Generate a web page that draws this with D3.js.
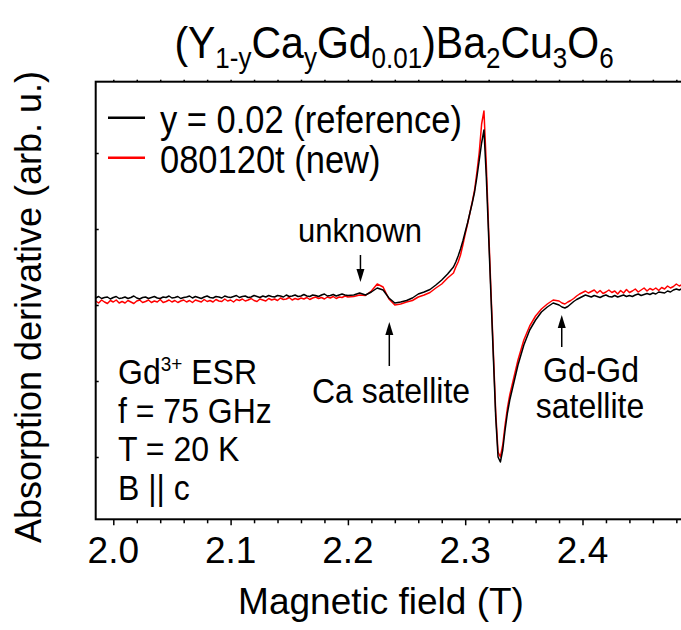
<!DOCTYPE html>
<html>
<head>
<meta charset="utf-8">
<script src="https://cdn.jsdelivr.net/npm/d3@7/dist/d3.min.js"></script>
<style>
  body { margin: 0; background: #fff; }
  svg { display: block; }
  text { font-family: "Liberation Sans", Arial, Helvetica, sans-serif; fill: #000; }
</style>
</head>
<body>
<svg id="chart" width="681" height="630"></svg>
<script>
// Magnetic field (T) at which both spectra are sampled
const field = [
  1.9850, 1.9875, 1.9900, 1.9925, 1.9950, 1.9975, 2.0000, 2.0025, 2.0050, 2.0075,
  2.0100, 2.0125, 2.0150, 2.0175, 2.0200, 2.0225, 2.0250, 2.0275, 2.0300, 2.0325,
  2.0350, 2.0375, 2.0400, 2.0425, 2.0450, 2.0475, 2.0500, 2.0525, 2.0550, 2.0575,
  2.0600, 2.0625, 2.0650, 2.0675, 2.0700, 2.0725, 2.0750, 2.0775, 2.0800, 2.0825,
  2.0850, 2.0875, 2.0900, 2.0925, 2.0950, 2.0975, 2.1000, 2.1025, 2.1050, 2.1075,
  2.1100, 2.1125, 2.1150, 2.1175, 2.1200, 2.1225, 2.1250, 2.1275, 2.1300, 2.1325,
  2.1350, 2.1375, 2.1400, 2.1425, 2.1450, 2.1475, 2.1500, 2.1525, 2.1550, 2.1575,
  2.1600, 2.1625, 2.1650, 2.1675, 2.1700, 2.1725, 2.1750, 2.1775, 2.1800, 2.1825,
  2.1850, 2.1875, 2.1900, 2.1925, 2.1950, 2.1975,
  2.200, 2.205, 2.210, 2.215, 2.220, 2.225, 2.230, 2.235, 2.240, 2.245,
  2.250, 2.255, 2.260, 2.265, 2.270, 2.275, 2.280, 2.285, 2.290,
  2.292, 2.294, 2.296, 2.298, 2.300, 2.302, 2.304, 2.306, 2.308, 2.310,
  2.312, 2.314, 2.316, 2.318, 2.320, 2.322, 2.324, 2.326, 2.328, 2.330,
  2.332, 2.334, 2.336, 2.338, 2.340,
  2.345, 2.350, 2.355, 2.360, 2.365, 2.370, 2.375, 2.380,
  2.3825, 2.3850, 2.3875, 2.3900, 2.3925, 2.3950, 2.3975, 2.4000, 2.4025, 2.4050,
  2.4075, 2.4100, 2.4125, 2.4150, 2.4175, 2.4200, 2.4225, 2.4250, 2.4275, 2.4300,
  2.4325, 2.4350, 2.4375, 2.4400, 2.4425, 2.4450, 2.4475, 2.4500, 2.4525, 2.4550,
  2.4575, 2.4600, 2.4625, 2.4650, 2.4675, 2.4700, 2.4725, 2.4750, 2.4775, 2.4800,
  2.4825, 2.4850, 2.4875, 2.4900, 2.4925, 2.4950, 2.4975, 2.5000
];

// Absorption derivative, arb. u. — reference sample y = 0.02
const refSignal = [
  7, 8.5, 6.5, 7.5, 8, 6, 7.5, 8.5, 6.5, 7,
  8, 6.5, 7.5, 9, 7, 6, 7.5, 8, 6.5, 7.5,
  8.5, 7, 6.5, 8, 7.5, 9, 7, 7.5, 8.5, 6.5,
  7.5, 8, 9, 7, 8.5, 7.5, 6.5, 8, 9, 7.5,
  7, 8.5, 8, 7, 9, 8, 7.5, 8.5, 9.5, 7.5,
  8.5, 9, 7.5, 8, 9.5, 8.5, 7.5, 9, 8, 9.5,
  8.5, 8, 9.5, 9, 8, 10, 8.5, 9, 10, 8.5,
  9, 10.5, 9, 8.5, 10, 9.5, 8.5, 10, 11, 9,
  9.5, 10.5, 9, 10, 11, 10,
  9.5, 10, 12, 10, 13, 17, 15, 7, 2, 3,
  4.5, 7, 11, 13, 15.5, 20, 25, 31, 38,
  43, 49, 56, 64, 73, 82, 92, 102, 113, 128,
  145, 162, 175, 128, 68, 8, -52, -112, -152, -157,
  -145, -125, -108, -95, -85,
  -60, -40, -25, -15, -7, -2, 2, 0,
  -2, -3, -1.5, 1, 3.5, 5.5, 7, 8.5, 10, 9,
  8, 9.5, 8.5, 7.5, 9, 10, 8.5, 8, 9.5, 8,
  9, 10, 8.5, 9.5, 8.5, 10, 11, 9.5, 10.5, 11.5,
  10.5, 12, 11, 13, 12.5, 12, 14, 13, 15, 16,
  15, 16.5, 15.5, 16.5, 17, 16, 17.5, 17
];

// Absorption derivative, arb. u. — new sample 080120t
const newSignal = [
  4, 2, 5, 3, 1.5, 4.5, 3, 5, 2, 3.5,
  2, 4.5, 3, 1.5, 4, 5, 2.5, 3.5, 5, 2.5,
  4, 3, 5.5, 2.5, 3.5, 5, 3, 4.5, 2.5, 4,
  5, 3, 4.5, 2.5, 5, 4, 3, 5.5, 3.5, 4.5,
  3, 5.5, 4, 3.5, 6, 4, 5, 3, 5.5, 4.5,
  6, 4, 5, 6.5, 4.5, 3.5, 6, 5, 4, 6.5,
  5, 6, 4.5, 7, 5.5, 6, 7.5, 5, 6.5, 5.5,
  7, 6, 7.5, 5.5, 7, 8, 6.5, 7.5, 6, 8,
  7, 8.5, 6.5, 8, 7.5, 9,
  8, 8.5, 10, 9.5, 14, 21, 18, 6, 0, 1,
  3, 4.5, 8, 10, 12.5, 17, 21, 27, 32,
  38, 43, 50, 60, 71, 81, 92, 103, 115, 133,
  153, 181, 194, 140, 75, 13, -47, -107, -147, -152,
  -140, -120, -103, -90, -80,
  -55, -35, -21, -11, -4, 1, 5, 4,
  2, 1, 3, 4.5, 6.5, 9, 11, 12.5, 14, 12,
  13.5, 15, 12, 14.5, 11.5, 13, 15, 12.5, 14, 11,
  14.5, 12, 15.5, 12.5, 14, 16, 13, 15, 17, 14,
  16.5, 15, 17, 14.5, 17.5, 16, 19, 17, 18.5, 21,
  19, 20.5, 19, 21, 19.5, 20, 18.5, 20
];

const seriesNames = ["y = 0.02 (reference)", "080120t (new)"];
const seriesColors = ["#000000", "#ff0000"];

const xTicks = [2.0, 2.1, 2.2, 2.3, 2.4];
const xTickLabels = ["2.0", "2.1", "2.2", "2.3", "2.4"];
const yTicks = [-152, -76, 0, 76, 152];

const infoLines = ["f = 75 GHz", "T = 20 K", "B || c"];

// annotation arrows: field position, tip and tail values
const arrows = [
  { name: "unknown",         x: 2.2107, tip: 23,  tail: 50 },
  { name: "Ca satellite",    x: 2.2353, tip: -17, tail: -61 },
  { name: "Gd-Gd satellite", x: 2.3823, tip: -10, tail: -42 }
];

// ---------------------------------------------------------------
const svg = d3.select("#chart");
const plot = { left: 95.7, top: 81.7, bottom: 519.3, right: 699.8 };

const x = d3.scaleLinear().domain([1.985, 2.5]).range([plot.left, plot.right]);
const y = d3.scaleLinear().domain([-214.3, 223.3]).range([plot.bottom, plot.top]);

function txt(parent, px, py, size, anchor, sy) {
  return parent.append("text")
    .attr("transform", `translate(${px},${py}) scale(1,${sy || 1})`)
    .attr("font-size", size)
    .attr("text-anchor", anchor || "start");
}

svg.append("defs").append("clipPath").attr("id", "plotClip")
  .append("rect")
  .attr("x", plot.left).attr("y", plot.top)
  .attr("width", plot.right - plot.left).attr("height", plot.bottom - plot.top);

// spectra: new sample underneath, reference on top
const line = d3.line().x((d, i) => x(field[i])).y(d => y(d));
const curves = svg.append("g").attr("clip-path", "url(#plotClip)");
[[newSignal, seriesColors[1]], [refSignal, seriesColors[0]]].forEach(([series, color]) => {
  curves.append("path")
    .datum(series)
    .attr("d", line)
    .attr("fill", "none")
    .attr("stroke", color)
    .attr("stroke-width", 1.5)
    .attr("stroke-linejoin", "round");
});

// axes
const xMinor = d3.range(2.02, 2.5, 0.02).filter(v => Math.abs(v * 10 - Math.round(v * 10)) > 1e-6);

const axisBottomG = svg.append("g").attr("transform", `translate(0,${plot.bottom})`);
axisBottomG.call(d3.axisBottom(x).tickValues(xTicks).tickSize(6).tickFormat(""));
axisBottomG.append("g").call(d3.axisBottom(x).tickValues(xMinor).tickSize(4).tickFormat(""));
axisBottomG.selectAll(".domain").remove();

const axisTopG = svg.append("g").attr("transform", `translate(0,${plot.top})`);
axisTopG.call(d3.axisTop(x).tickValues(xTicks.concat(xMinor)).tickSize(2).tickFormat(""));
axisTopG.selectAll(".domain").remove();

const axisLeftG = svg.append("g").attr("transform", `translate(${plot.left},0)`);
axisLeftG.call(d3.axisRight(y).tickValues(yTicks).tickSize(3).tickFormat(""));
axisLeftG.selectAll(".domain").remove();

svg.selectAll(".tick line").attr("stroke", "#000").attr("stroke-width", 1.5);

// frame
svg.append("rect")
  .attr("x", plot.left).attr("y", plot.top)
  .attr("width", plot.right - plot.left).attr("height", plot.bottom - plot.top)
  .attr("fill", "none").attr("stroke", "#000").attr("stroke-width", 2);

// tick labels
xTicks.forEach((v, i) => {
  txt(svg, x(v), 563, 37, "middle").text(xTickLabels[i]);
});

// axis titles
txt(svg, 381, 614, 37, "middle").text("Magnetic field (T)");
svg.append("text")
  .attr("transform", "translate(41,307) rotate(-90)")
  .attr("font-size", 36).attr("text-anchor", "middle")
  .text("Absorption derivative (arb. u.)");

// title with subscripts
const titleParts = [["(Y", 0], ["1-y", 1], ["Ca", 0], ["y", 1], ["Gd", 0], ["0.01", 1],
                    [")Ba", 0], ["2", 1], ["Cu", 0], ["3", 1], ["O", 0], ["6", 1]];
const title = txt(svg, 394, 58, 41, "middle", 1.1);
let shifted = false;
titleParts.forEach(([s, sub]) => {
  const t = title.append("tspan").text(s);
  if (sub) {
    t.attr("font-size", 26);
    if (!shifted) { t.attr("dy", 9); shifted = true; }
  } else if (shifted) {
    t.attr("dy", -9); shifted = false;
  }
});

// legend
seriesNames.forEach((name, i) => {
  const ly = 117.7 + i * 40;
  svg.append("line")
    .attr("x1", 108).attr("x2", 145).attr("y1", ly).attr("y2", ly)
    .attr("stroke", seriesColors[i]).attr("stroke-width", 2.5);
  txt(svg, 160, ly + 15.5, 34.5, "start", 1.1).text(name);
});

// annotation arrows
arrows.forEach(a => {
  const ax = x(a.x), yt = y(a.tip), yb = y(a.tail);
  const dir = yb > yt ? 1 : -1;
  svg.append("line")
    .attr("x1", ax).attr("x2", ax).attr("y1", yb).attr("y2", yt + dir * 10)
    .attr("stroke", "#000").attr("stroke-width", 1.5);
  svg.append("path")
    .attr("d", `M${ax},${yt} L${ax - 4},${yt + dir * 13} L${ax + 4},${yt + dir * 13} Z`)
    .attr("fill", "#000");
});

txt(svg, 360, 242, 31, "middle", 1.1).text("unknown");
txt(svg, 391, 403, 32, "middle", 1.1).text("Ca satellite");
txt(svg, 591, 382, 32, "middle", 1.1).text("Gd-Gd");
txt(svg, 590, 418, 32, "middle", 1.1).text("satellite");

// measurement conditions
const gd = txt(svg, 118, 384, 32, "start", 1.1);
gd.append("tspan").text("Gd");
gd.append("tspan").attr("font-size", 19).attr("dy", -12).text("3+");
gd.append("tspan").attr("dy", 12).text(" ESR");
infoLines.forEach((s, i) => {
  txt(svg, 118, 422.5 + i * 38.5, 32, "start", 1.1).text(s);
});
</script>
</body>
</html>
